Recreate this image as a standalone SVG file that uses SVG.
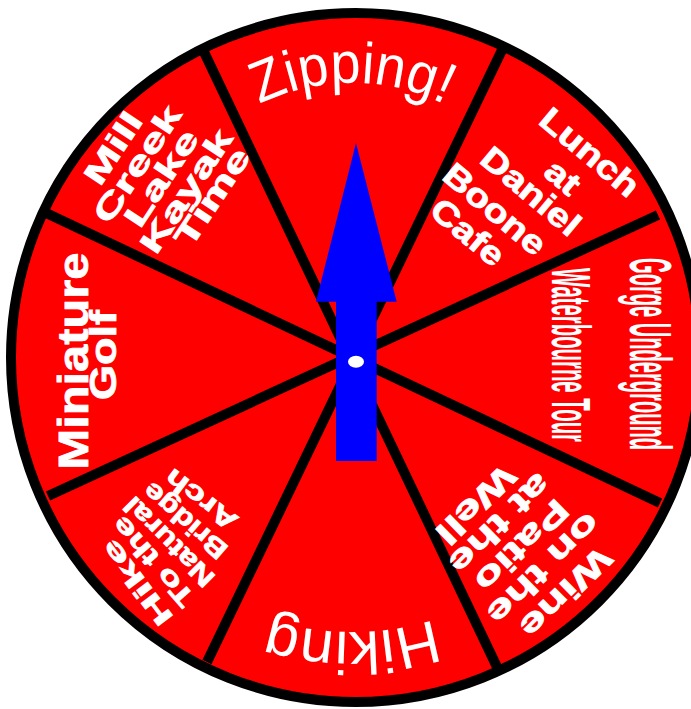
<svg xmlns="http://www.w3.org/2000/svg" width="691" height="709" viewBox="0 0 691 709">
<style>
.lbl{fill:#fff;stroke:#fff;stroke-width:0.8;font-family:"Liberation Sans",Arial,sans-serif;font-weight:bold;text-anchor:middle}
.reg{fill:#fff;font-family:"Liberation Sans",Arial,sans-serif;text-anchor:middle}
.spoke{stroke:#000;stroke-width:10;fill:none}
</style>
<defs>
<path id="arcTop" d="M 217 132 A 210 210 0 0 1 487 132"/>
<path id="arcBot" d="M 528 568 A 274 274 0 0 1 176 568"/>
</defs>
<g id="wheel">
<circle cx="355.5" cy="357.5" r="344.5" fill="#ff0000" stroke="#000" stroke-width="10"/>
</g>
<g id="connectors">
<line class="spoke" x1="204" y1="52" x2="497" y2="667"/>
<line class="spoke" x1="502" y1="50" x2="207" y2="662"/>
<line class="spoke" x1="44" y1="212" x2="660" y2="503"/>
<line class="spoke" x1="658" y1="215" x2="48" y2="496"/>
</g>
<g id="zipping">
<text class="reg" font-size="58" textLength="192" lengthAdjust="spacingAndGlyphs"><textPath href="#arcTop" startOffset="50%">Zipping!</textPath></text>
</g>
<g id="lunch" class="lbl" font-size="33">
<text transform="translate(590,152) rotate(40) scale(1.2,1)" dy="0.35em">Lunch</text>
<text transform="translate(563,177) rotate(40) scale(1.2,1)" dy="0.35em">at</text>
<text transform="translate(531,191) rotate(40) scale(1.2,1)" dy="0.35em">Daniel</text>
<text transform="translate(495,209) rotate(40) scale(1.2,1)" dy="0.35em">Boone</text>
<text transform="translate(468,232) rotate(40) scale(1.2,1)" dy="0.35em">Cafe</text>
</g>
<g id="gorge">
<text class="reg" font-size="60" font-weight="bold" transform="translate(630,354) rotate(90)" textLength="192" lengthAdjust="spacingAndGlyphs">Gorge Underground</text>
<text class="reg" font-size="55" font-weight="bold" transform="translate(552,355) rotate(90)" textLength="174" lengthAdjust="spacingAndGlyphs">Waterbourne Tour</text>
</g>
<g id="wine" class="lbl" font-size="32">
<text transform="translate(566,593) rotate(135.5) scale(1.5,1)" dy="0.35em">Wine</text>
<text transform="translate(544,569) rotate(135.5) scale(1.5,1)" dy="0.35em">on the</text>
<text transform="translate(522,546) rotate(135.5) scale(1.5,1)" dy="0.35em">Patio</text>
<text transform="translate(500,524) rotate(135.5) scale(1.5,1)" dy="0.35em">at the</text>
<text transform="translate(476,505) rotate(135.5) scale(1.5,1)" dy="0.35em">Well</text>
</g>
<g id="hiking">
<text class="reg" font-size="60"><textPath href="#arcBot" startOffset="50%">Hiking</textPath></text>
</g>
<g id="hike" class="lbl" font-size="26">
<text transform="translate(137,583) rotate(-127)" dy="0.35em" textLength="100" lengthAdjust="spacingAndGlyphs">Hike</text>
<text transform="translate(153,562) rotate(-131)" dy="0.35em" textLength="110" lengthAdjust="spacingAndGlyphs">To the</text>
<text transform="translate(169,542) rotate(-135)" dy="0.35em" textLength="116" lengthAdjust="spacingAndGlyphs">Natural</text>
<text transform="translate(185,521) rotate(-139)" dy="0.35em" textLength="102" lengthAdjust="spacingAndGlyphs">Bridge</text>
<text transform="translate(201,500) rotate(-143)" dy="0.35em" textLength="84" lengthAdjust="spacingAndGlyphs">Arch</text>
</g>
<g id="minigolf" class="lbl">
<text font-size="42" transform="translate(88,361) rotate(-90)" textLength="217" lengthAdjust="spacingAndGlyphs">Miniature</text>
<text font-size="37" transform="translate(116,355) rotate(-90)" textLength="90" lengthAdjust="spacingAndGlyphs">Golf</text>
</g>
<g id="kayak" class="lbl" font-size="31">
<text transform="translate(113,148) rotate(-56.6) scale(1.55,1)" dy="0.35em">Mill</text>
<text transform="translate(137,164) rotate(-56.6) scale(1.55,1)" dy="0.35em">Creek</text>
<text transform="translate(161,178) rotate(-56.6) scale(1.55,1)" dy="0.35em">Lake</text>
<text transform="translate(186,191) rotate(-56.6) scale(1.55,1)" dy="0.35em">Kayak</text>
<text transform="translate(212,197) rotate(-56.6) scale(1.55,1)" dy="0.35em">Time</text>
</g>
<g id="arrow">
<polygon points="356,143 396.7,301.7 376.7,301.7 376.7,461 336,461 336,301.7 316,301.7" fill="#0000ff"/>
<ellipse cx="356" cy="361.7" rx="8" ry="6" fill="#fff"/>
</g>
</svg>
